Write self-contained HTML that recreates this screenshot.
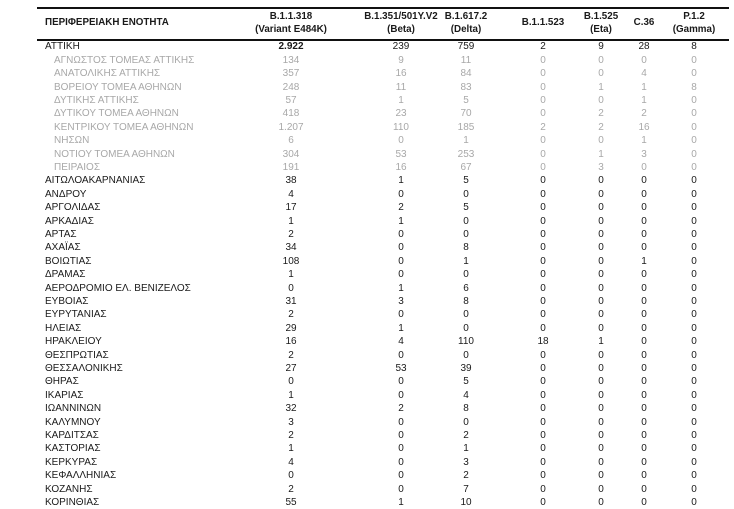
<!DOCTYPE html>
<html><head><meta charset="utf-8"><style>
body{margin:0;width:734px;height:508px;background:#fff;font-family:"Liberation Sans",sans-serif;font-size:10px;color:#1a1a1a;position:relative;overflow:hidden}
.l{position:absolute;left:37px;width:692px;height:2px;background:#111}
.h{position:absolute;font-weight:bold;text-align:center;line-height:12.5px;font-size:9.8px}
.r{position:absolute;left:0;width:734px;height:13.4px;line-height:13.4px}
.r span{position:absolute;width:70px;text-align:center}
.r span:nth-child(1){left:45px;width:220px;text-align:left}
.r span:nth-child(2){left:256px}
.r span:nth-child(3){left:366px}
.r span:nth-child(4){left:431px}
.r span:nth-child(5){left:508px}
.r span:nth-child(6){left:566px}
.r span:nth-child(7){left:609px}
.r span:nth-child(8){left:659px}
.g{color:#a8a8a8}
.g span:nth-child(1){left:54px}
.b{font-weight:bold}
</style></head><body>
<div class="l" style="top:7px"></div>
<div class="l" style="top:39px"></div>
<div class="h" style="left:45px;top:17px;text-align:left">ΠΕΡΙΦΕΡΕΙΑΚΗ ΕΝΟΤΗΤΑ</div>
<div class="h" style="left:231px;width:120px;top:11px">B.1.1.318<br>(Variant E484K)</div>
<div class="h" style="left:341px;width:120px;top:11px">B.1.351/501Y.V2<br>(Beta)</div>
<div class="h" style="left:426px;width:80px;top:11px">B.1.617.2<br>(Delta)</div>
<div class="h" style="left:503px;width:80px;top:17px">B.1.1.523</div>
<div class="h" style="left:561px;width:80px;top:11px">B.1.525<br>(Eta)</div>
<div class="h" style="left:614px;width:60px;top:17px">C.36</div>
<div class="h" style="left:654px;width:80px;top:11px">P.1.2<br>(Gamma)</div>

<div style="position:absolute;left:0;top:1px;width:734px;height:508px">
<div class="r" style="top:39.3px"><span>ΑΤΤΙΚΗ</span><span class="b">2.922</span><span>239</span><span>759</span><span>2</span><span>9</span><span>28</span><span>8</span></div>
<div class="r g" style="top:52.7px"><span>ΑΓΝΩΣΤΟΣ ΤΟΜΕΑΣ ΑΤΤΙΚΗΣ</span><span>134</span><span>9</span><span>11</span><span>0</span><span>0</span><span>0</span><span>0</span></div>
<div class="r g" style="top:66.1px"><span>ΑΝΑΤΟΛΙΚΗΣ ΑΤΤΙΚΗΣ</span><span>357</span><span>16</span><span>84</span><span>0</span><span>0</span><span>4</span><span>0</span></div>
<div class="r g" style="top:79.5px"><span>ΒΟΡΕΙΟΥ ΤΟΜΕΑ ΑΘΗΝΩΝ</span><span>248</span><span>11</span><span>83</span><span>0</span><span>1</span><span>1</span><span>8</span></div>
<div class="r g" style="top:92.9px"><span>ΔΥΤΙΚΗΣ ΑΤΤΙΚΗΣ</span><span>57</span><span>1</span><span>5</span><span>0</span><span>0</span><span>1</span><span>0</span></div>
<div class="r g" style="top:106.3px"><span>ΔΥΤΙΚΟΥ ΤΟΜΕΑ ΑΘΗΝΩΝ</span><span>418</span><span>23</span><span>70</span><span>0</span><span>2</span><span>2</span><span>0</span></div>
<div class="r g" style="top:119.7px"><span>ΚΕΝΤΡΙΚΟΥ ΤΟΜΕΑ ΑΘΗΝΩΝ</span><span>1.207</span><span>110</span><span>185</span><span>2</span><span>2</span><span>16</span><span>0</span></div>
<div class="r g" style="top:133.1px"><span>ΝΗΣΩΝ</span><span>6</span><span>0</span><span>1</span><span>0</span><span>0</span><span>1</span><span>0</span></div>
<div class="r g" style="top:146.5px"><span>ΝΟΤΙΟΥ ΤΟΜΕΑ ΑΘΗΝΩΝ</span><span>304</span><span>53</span><span>253</span><span>0</span><span>1</span><span>3</span><span>0</span></div>
<div class="r g" style="top:159.9px"><span>ΠΕΙΡΑΙΟΣ</span><span>191</span><span>16</span><span>67</span><span>0</span><span>3</span><span>0</span><span>0</span></div>
<div class="r" style="top:173.3px"><span>ΑΙΤΩΛΟΑΚΑΡΝΑΝΙΑΣ</span><span>38</span><span>1</span><span>5</span><span>0</span><span>0</span><span>0</span><span>0</span></div>
<div class="r" style="top:186.7px"><span>ΑΝΔΡΟΥ</span><span>4</span><span>0</span><span>0</span><span>0</span><span>0</span><span>0</span><span>0</span></div>
<div class="r" style="top:200.1px"><span>ΑΡΓΟΛΙΔΑΣ</span><span>17</span><span>2</span><span>5</span><span>0</span><span>0</span><span>0</span><span>0</span></div>
<div class="r" style="top:213.5px"><span>ΑΡΚΑΔΙΑΣ</span><span>1</span><span>1</span><span>0</span><span>0</span><span>0</span><span>0</span><span>0</span></div>
<div class="r" style="top:226.9px"><span>ΑΡΤΑΣ</span><span>2</span><span>0</span><span>0</span><span>0</span><span>0</span><span>0</span><span>0</span></div>
<div class="r" style="top:240.3px"><span>ΑΧΑΪΑΣ</span><span>34</span><span>0</span><span>8</span><span>0</span><span>0</span><span>0</span><span>0</span></div>
<div class="r" style="top:253.7px"><span>ΒΟΙΩΤΙΑΣ</span><span>108</span><span>0</span><span>1</span><span>0</span><span>0</span><span>1</span><span>0</span></div>
<div class="r" style="top:267.1px"><span>ΔΡΑΜΑΣ</span><span>1</span><span>0</span><span>0</span><span>0</span><span>0</span><span>0</span><span>0</span></div>
<div class="r" style="top:280.5px"><span>ΑΕΡΟΔΡΟΜΙΟ ΕΛ. ΒΕΝΙΖΕΛΟΣ</span><span>0</span><span>1</span><span>6</span><span>0</span><span>0</span><span>0</span><span>0</span></div>
<div class="r" style="top:293.9px"><span>ΕΥΒΟΙΑΣ</span><span>31</span><span>3</span><span>8</span><span>0</span><span>0</span><span>0</span><span>0</span></div>
<div class="r" style="top:307.3px"><span>ΕΥΡΥΤΑΝΙΑΣ</span><span>2</span><span>0</span><span>0</span><span>0</span><span>0</span><span>0</span><span>0</span></div>
<div class="r" style="top:320.7px"><span>ΗΛΕΙΑΣ</span><span>29</span><span>1</span><span>0</span><span>0</span><span>0</span><span>0</span><span>0</span></div>
<div class="r" style="top:334.1px"><span>ΗΡΑΚΛΕΙΟΥ</span><span>16</span><span>4</span><span>110</span><span>18</span><span>1</span><span>0</span><span>0</span></div>
<div class="r" style="top:347.5px"><span>ΘΕΣΠΡΩΤΙΑΣ</span><span>2</span><span>0</span><span>0</span><span>0</span><span>0</span><span>0</span><span>0</span></div>
<div class="r" style="top:360.9px"><span>ΘΕΣΣΑΛΟΝΙΚΗΣ</span><span>27</span><span>53</span><span>39</span><span>0</span><span>0</span><span>0</span><span>0</span></div>
<div class="r" style="top:374.3px"><span>ΘΗΡΑΣ</span><span>0</span><span>0</span><span>5</span><span>0</span><span>0</span><span>0</span><span>0</span></div>
<div class="r" style="top:387.7px"><span>ΙΚΑΡΙΑΣ</span><span>1</span><span>0</span><span>4</span><span>0</span><span>0</span><span>0</span><span>0</span></div>
<div class="r" style="top:401.1px"><span>ΙΩΑΝΝΙΝΩΝ</span><span>32</span><span>2</span><span>8</span><span>0</span><span>0</span><span>0</span><span>0</span></div>
<div class="r" style="top:414.5px"><span>ΚΑΛΥΜΝΟΥ</span><span>3</span><span>0</span><span>0</span><span>0</span><span>0</span><span>0</span><span>0</span></div>
<div class="r" style="top:427.9px"><span>ΚΑΡΔΙΤΣΑΣ</span><span>2</span><span>0</span><span>2</span><span>0</span><span>0</span><span>0</span><span>0</span></div>
<div class="r" style="top:441.3px"><span>ΚΑΣΤΟΡΙΑΣ</span><span>1</span><span>0</span><span>1</span><span>0</span><span>0</span><span>0</span><span>0</span></div>
<div class="r" style="top:454.7px"><span>ΚΕΡΚΥΡΑΣ</span><span>4</span><span>0</span><span>3</span><span>0</span><span>0</span><span>0</span><span>0</span></div>
<div class="r" style="top:468.1px"><span>ΚΕΦΑΛΛΗΝΙΑΣ</span><span>0</span><span>0</span><span>2</span><span>0</span><span>0</span><span>0</span><span>0</span></div>
<div class="r" style="top:481.5px"><span>ΚΟΖΑΝΗΣ</span><span>2</span><span>0</span><span>7</span><span>0</span><span>0</span><span>0</span><span>0</span></div>
<div class="r" style="top:494.9px"><span>ΚΟΡΙΝΘΙΑΣ</span><span>55</span><span>1</span><span>10</span><span>0</span><span>0</span><span>0</span><span>0</span></div>
</div>
</body></html>
